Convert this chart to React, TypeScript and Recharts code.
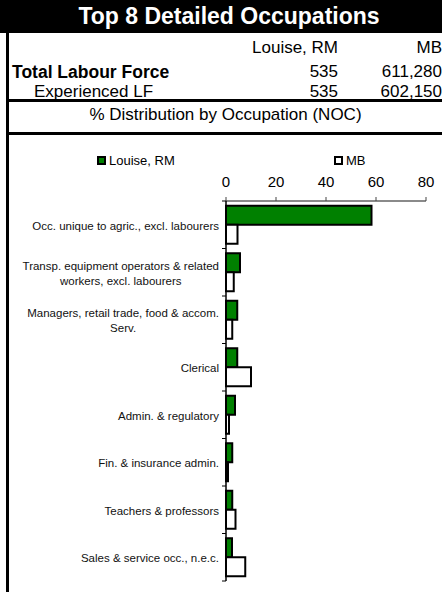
import React from 'react';
import { BarChart, Bar, XAxis, YAxis, Legend } from 'recharts';

// Occupation categories, line breaks as printed on the chart
const categories = [
  'Occ. unique to agric., excl. labourers',
  'Transp. equipment operators & related\nworkers, excl. labourers',
  'Managers, retail trade, food & accom.\nServ.',
  'Clerical',
  'Admin. & regulatory',
  'Fin. & insurance admin.',
  'Teachers & professors',
  'Sales & service occ., n.e.c.',
];
// % distribution by occupation
const louiseValues = [58.2, 5.6, 4.5, 4.5, 3.6, 2.5, 2.5, 2.4];
const mbValues = [4.6, 3.1, 2.5, 10.0, 1.2, 0.8, 3.8, 7.7];
const xTicks = [0, 20, 40, 60, 80];
const seriesNames = ['Louise, RM', 'MB'];

// header table
const headerCols = ['Louise, RM', 'MB'];
const totalLabourForce = ['535', '611,280'];
const experiencedLF = ['535', '602,150'];

const FONT = '"Liberation Sans", Arial, Helvetica, sans-serif';
const GREEN = '#008000';
const LABEL_SIZE = 11.5;

// chart box
const CHART_W = 442;
const CHART_H = 457;
const MARGIN = { top: 36, right: 16, bottom: 11, left: 10 };
const XAXIS_H = 30;
const PLOT_H = CHART_H - MARGIN.top - XAXIS_H - MARGIN.bottom;

const data = categories.map((name, i) => ({
  name,
  louise: louiseValues[i],
  mb: mbValues[i],
}));

let ctx: CanvasRenderingContext2D | null = null;
const measure = (s: string) => {
  if (!ctx) ctx = document.createElement('canvas').getContext('2d');
  if (!ctx) return s.length * 6;
  ctx.font = `${LABEL_SIZE}px ${FONT}`;
  return ctx.measureText(s).width;
};

const CategoryTick = (props: any) => {
  const { x, y, payload, index } = props;
  const lines = String(payload.value).split('\n');
  const w = Math.max(...lines.map(measure));
  const cx = x - w / 2;
  const axisX = x + 7;
  const half = PLOT_H / categories.length / 2;
  return (
    <g>
      <line x1={axisX - 4} x2={axisX} y1={y - half} y2={y - half} stroke="#000" />
      {index === categories.length - 1 && (
        <line x1={axisX - 4} x2={axisX} y1={y + half} y2={y + half} stroke="#000" />
      )}
      <text textAnchor="middle" fontSize={LABEL_SIZE} fill="#111" fontFamily={FONT}>
        {lines.map((l, i) => (
          <tspan key={i} x={cx} y={y + 1 + (i - (lines.length - 1) / 2) * 15} dy="0.35em">
            {l}
          </tspan>
        ))}
      </text>
    </g>
  );
};

const LegendContent = () => {
  const fills = [GREEN, '#fff'];
  const lefts = [97, 334];
  return (
    <div style={{ position: 'relative', height: 16, fontFamily: FONT, fontSize: 13 }}>
      {seriesNames.map((n, i) => (
        <div
          key={n}
          style={{ position: 'absolute', left: lefts[i], top: 0, height: 16, display: 'flex', alignItems: 'center' }}
        >
          <span
            style={{
              display: 'inline-block',
              width: 5,
              height: 5,
              border: '2px solid #000',
              background: fills[i],
              marginRight: 3,
            }}
          />
          <span style={{ color: '#000' }}>{n}</span>
        </div>
      ))}
    </div>
  );
};

const textStyle: React.CSSProperties = {
  position: 'absolute',
  fontFamily: FONT,
  fontSize: 17,
  lineHeight: '18px',
  color: '#000',
  whiteSpace: 'nowrap',
};

const App = () => {
  return (
    <div
      style={{
        position: 'absolute',
        left: 0,
        top: 0,
        width: 442,
        height: 592,
        background: '#fff',
        overflow: 'hidden',
        fontFamily: FONT,
      }}
    >
      {/* title bar */}
      <div style={{ position: 'absolute', left: 0, top: 0, width: 442, height: 33, background: '#000' }} />
      <div
        style={{
          ...textStyle,
          left: 16,
          width: 426,
          top: 2,
          lineHeight: '28px',
          fontSize: 23,
          fontWeight: 'bold',
          color: '#fff',
          textAlign: 'center',
        }}
      >
        Top 8 Detailed Occupations
      </div>

      {/* header table */}
      <div style={{ ...textStyle, left: 200, width: 138, top: 39, textAlign: 'right' }}>{headerCols[0]}</div>
      <div style={{ ...textStyle, left: 342, width: 100, top: 39, textAlign: 'right' }}>{headerCols[1]}</div>

      <div style={{ ...textStyle, left: 12, top: 63, fontWeight: 'bold', fontSize: 17.5 }}>Total Labour Force</div>
      <div style={{ ...textStyle, left: 200, width: 138, top: 63, textAlign: 'right' }}>{totalLabourForce[0]}</div>
      <div style={{ ...textStyle, left: 342, width: 100, top: 63, textAlign: 'right' }}>{totalLabourForce[1]}</div>

      <div style={{ ...textStyle, left: 34, top: 83 }}>Experienced LF</div>
      <div style={{ ...textStyle, left: 200, width: 138, top: 83, textAlign: 'right' }}>{experiencedLF[0]}</div>
      <div style={{ ...textStyle, left: 342, width: 100, top: 83, textAlign: 'right' }}>{experiencedLF[1]}</div>

      <div style={{ position: 'absolute', left: 6, top: 99, width: 436, height: 3, background: '#000' }} />
      <div style={{ ...textStyle, left: 9, width: 433, top: 106, textAlign: 'center' }}>
        % Distribution by Occupation (NOC)
      </div>
      <div style={{ position: 'absolute', left: 6, top: 132, width: 436, height: 3, background: '#000' }} />

      {/* chart */}
      <div style={{ position: 'absolute', left: 0, top: 135 }}>
        <BarChart
          width={CHART_W}
          height={CHART_H}
          data={data}
          layout="vertical"
          margin={MARGIN}
          barCategoryGap="10%"
          barGap={0}
        >
          <XAxis
            type="number"
            orientation="top"
            domain={[0, 80]}
            ticks={xTicks}
            height={XAXIS_H}
            tickSize={4}
            tickMargin={10}
            axisLine={{ stroke: '#8a8a8a', strokeWidth: 2 }}
            tickLine={{ stroke: '#444' }}
            tick={{ fill: '#000', fontSize: 15, fontFamily: FONT }}
          />
          <YAxis
            type="category"
            dataKey="name"
            width={216}
            tickSize={0}
            tickMargin={7}
            axisLine={{ stroke: '#000', strokeWidth: 1.5 }}
            tickLine={false}
            interval={0}
            tick={<CategoryTick />}
          />
          <Legend
            verticalAlign="middle"
            align="center"
            layout="horizontal"
            content={<LegendContent />}
            wrapperStyle={{ top: 17, left: 0, width: 442, height: 16 }}
          />
          <Bar dataKey="louise" name={seriesNames[0]} fill={GREEN} stroke="#000" strokeWidth={2} isAnimationActive={false} />
          <Bar dataKey="mb" name={seriesNames[1]} fill="#fff" stroke="#000" strokeWidth={2} isAnimationActive={false} />
        </BarChart>
      </div>

      {/* left frame */}
      <div style={{ position: 'absolute', left: 6, top: 33, width: 3, height: 559, background: '#000' }} />
    </div>
  );
};

export default App;
